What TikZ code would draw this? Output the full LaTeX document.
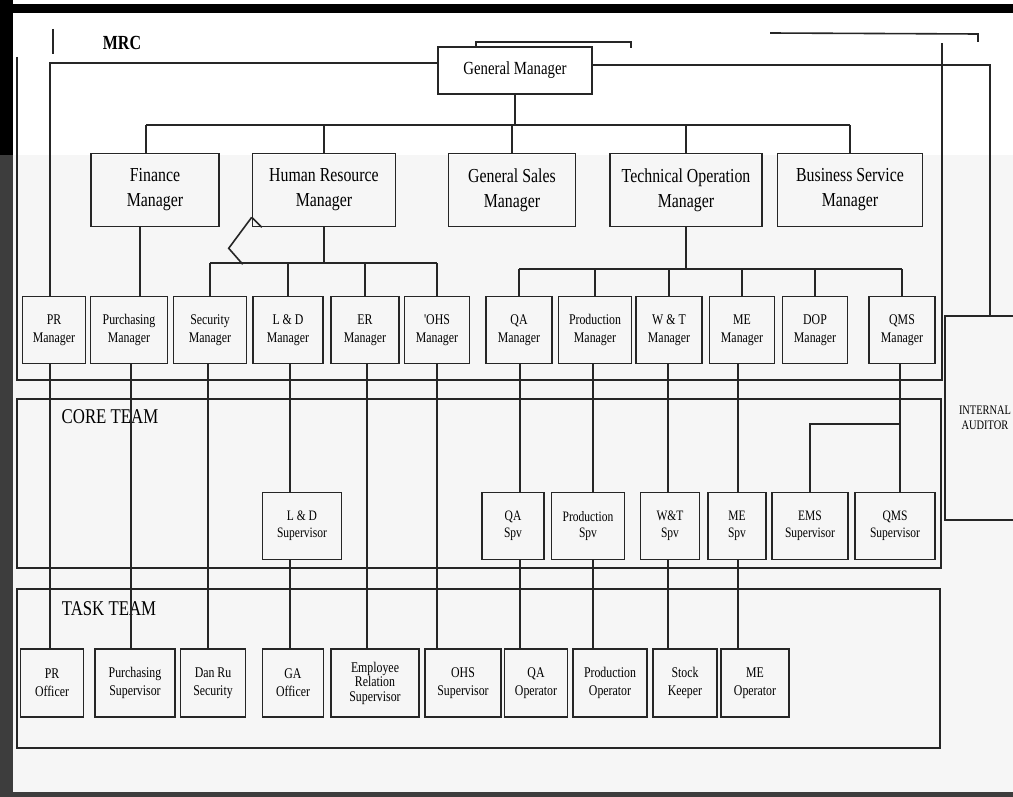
\documentclass[tikz,border=0pt]{standalone}
\usepackage{fontspec}
\newfontfamily\orgfont{Liberation Serif}[FakeStretch=0.8]

\begin{document}
\begin{tikzpicture}[
    x=1pt, y=1pt,
    post/.style={rectangle, draw=black!85, line width=1.6pt, align=center, inner sep=1pt},
    head/.style={post, minimum height=73pt, font=\orgfont\fontsize{19.8}{25}\selectfont},
    unit/.style={post, minimum height=67pt, font=\orgfont\fontsize{14.8}{17.6}\selectfont},
    core/.style={post, minimum height=67pt, font=\orgfont\fontsize{14.4}{16.8}\selectfont},
    task/.style={post, minimum height=68pt, font=\orgfont\fontsize{14.8}{18}\selectfont},
    link/.style={draw=black!85, line width=1.6pt},
    team/.style={font=\orgfont\fontsize{21}{24}\selectfont, inner sep=0pt}
]
    \useasboundingbox (0,0) rectangle (1013,-797);
    % paper
    \fill[white] (0,0) rectangle (1013,-797);
    \fill[gray!7] (0,-155) rectangle (1013,-797);

    % MRC, core team and task team frames
    \draw[link] (17,-57) -- (17,-380) -- (942,-380) -- (942,-43);
    \draw[link] (17,-399) rectangle (941,-568);
    \draw[link] (17,-589) rectangle (940,-748);
    \draw[link] (53,-29) -- (53,-54);
    \draw[link] (476,-48) -- (476,-42) -- (631,-42) -- (631,-48);
    \draw[link] (770,-33) -- (978,-34) -- (978,-42);

    \node[font=\orgfont\bfseries\fontsize{20}{24}\selectfont] (mrc) at (122,-43) {MRC};
    \node[team] (coreteam) at (110,-416.5) {CORE TEAM};
    \node[team] (taskteam) at (109,-608.5) {TASK TEAM};

    % columns of the vertical lines
    \coordinate (cfinup) at (146,0);
    \coordinate (cfin) at (140,0);
    \coordinate (cpr) at (50,0);
    \coordinate (cpu) at (131,0);
    \coordinate (csec) at (208,0);
    \coordinate (cld) at (290,0);
    \coordinate (cer) at (367,0);
    \coordinate (cohs) at (437,0);
    \coordinate (cqa) at (520,0);
    \coordinate (cprd) at (593,0);
    \coordinate (cwt) at (668,0);
    \coordinate (cme) at (738,0);
    \coordinate (cqms) at (900,0);
    \coordinate (cia) at (990,0);
    \coordinate (topbus) at (0,-125);
    \coordinate (hrbus) at (0,-263);
    \coordinate (tobus) at (0,-269);
    \coordinate (emsbr) at (0,-424);

    % top
    \node[post, minimum width=154pt, minimum height=47pt, font=\orgfont\fontsize{18.5}{22}\selectfont] (gm) at (515,-70.5) {General Manager};
    \node[post, minimum width=80pt, minimum height=204pt, font=\orgfont\fontsize{13}{15}\selectfont] (ia) at (985,-418) {INTERNAL\\AUDITOR};

    \node[head, minimum width=128pt] (fin) at (155,-190) {Finance\\Manager};
    \node[head, minimum width=143pt] (hrm) at (324,-190) {Human Resource\\Manager};
    \node[head, minimum width=127pt] (gsm) at (512,-190) {General Sales\\Manager};
    \node[head, minimum width=152pt] (tom) at (686,-190) {Technical Operation\\Manager};
    \node[head, minimum width=145pt] (bsm) at (850,-190) {Business Service\\Manager};

    % managers
    \node[unit, minimum width=63pt] (prm) at (54,-330) {PR\\Manager};
    \node[unit, minimum width=77pt] (pum) at (129,-330) {Purchasing\\Manager};
    \node[unit, minimum width=73pt] (sem) at (210,-330) {Security\\Manager};
    \node[unit, minimum width=70pt] (ldm) at (288,-330) {L \& D\\Manager};
    \node[unit, minimum width=68pt] (erm) at (365,-330) {ER\\Manager};
    \node[unit, minimum width=65pt] (ohm) at (437,-330) {'OHS\\Manager};
    \node[unit, minimum width=66pt] (qam) at (519,-330) {QA\\Manager};
    \node[unit, minimum width=73pt] (prdm) at (595,-330) {Production\\Manager};
    \node[unit, minimum width=66pt] (wtm) at (669,-330) {W \& T\\Manager};
    \node[unit, minimum width=65pt] (mem) at (742,-330) {ME\\Manager};
    \node[unit, minimum width=65pt] (dopm) at (815,-330) {DOP\\Manager};
    \node[unit, minimum width=66pt] (qmsm) at (902,-330) {QMS\\Manager};

    % core team
    \node[core, minimum width=79pt] (lds) at (302,-526) {L \& D\\Supervisor};
    \node[core, minimum width=62pt] (qas) at (513,-526) {QA\\Spv};
    \node[core, minimum width=73pt] (prs) at (588,-526) {Production\\Spv};
    \node[core, minimum width=59pt] (wts) at (670,-526) {W\&T\\Spv};
    \node[core, minimum width=58pt] (mes) at (737,-526) {ME\\Spv};
    \node[core, minimum width=76pt] (ems) at (810,-526) {EMS\\Supervisor};
    \node[core, minimum width=80pt] (qmss) at (895,-526) {QMS\\Supervisor};

    % task team
    \node[task, minimum width=63pt] (pro) at (52,-683) {PR\\Officer};
    \node[task, minimum width=80pt] (pus) at (135,-683) {Purchasing\\Supervisor};
    \node[task, minimum width=65pt] (drs) at (213,-683) {Dan Ru\\Security};
    \node[task, minimum width=61pt] (gao) at (293,-683) {GA\\Officer};
    \node[task, minimum width=88pt, font=\orgfont\fontsize{14.8}{14.5}\selectfont] (ers) at (375,-683) {Employee\\Relation\\Supervisor};
    \node[task, minimum width=76pt] (ohs) at (463,-683) {OHS\\Supervisor};
    \node[task, minimum width=63pt] (qao) at (536,-683) {QA\\Operator};
    \node[task, minimum width=74pt] (prodo) at (610,-683) {Production\\Operator};
    \node[task, minimum width=64pt] (skp) at (685,-683) {Stock\\Keeper};
    \node[task, minimum width=68pt] (meo) at (755,-683) {ME\\Operator};

    % general manager links
    \draw[link] (gm.south) -- (gm.south |- topbus);
    \draw[link] (cfinup |- topbus) -- (bsm.north |- topbus);
    \draw[link] (cfinup |- topbus) -- (cfinup |- fin.north);
    \foreach \n in {hrm,gsm,tom,bsm}
        \draw[link] (\n.north) -- (\n.north |- topbus);
    \draw[link] ([yshift=7.5pt]gm.west) -| (cpr |- prm.north);
    \draw[link] ([yshift=5.5pt]gm.east) -| (cia |- ia.north);

    % finance
    \draw[link] (cfin |- fin.south) -- (cfin |- pum.north);

    % human resource
    \draw[link] (hrm.south) -- (hrm.south |- hrbus);
    \draw[link] (sem.north |- hrbus) -- (ohm.north |- hrbus);
    \foreach \n in {sem,ldm,erm,ohm}
        \draw[link] (\n.north) -- (\n.north |- hrbus);
    \draw[link] ([yshift=10pt]hrm.south west) -- ([xshift=10pt]hrm.south west);
    \draw[link] ([yshift=10pt]hrm.south west) -- ++(-23,-31) -- ++(14,-16);

    % technical operation
    \draw[link] (tom.south) -- (tom.south |- tobus);
    \draw[link] (qam.north |- tobus) -- (qmsm.north |- tobus);
    \foreach \n in {qam,prdm,wtm,mem,dopm,qmsm}
        \draw[link] (\n.north) -- (\n.north |- tobus);

    % down to core team and task team
    \draw[link] (cpr |- prm.south) -- (cpr |- pro.north);
    \draw[link] (cpu |- pum.south) -- (cpu |- pus.north);
    \draw[link] (csec |- sem.south) -- (csec |- drs.north);
    \draw[link] (cld |- ldm.south) -- (cld |- lds.north);
    \draw[link] (cld |- lds.south) -- (cld |- gao.north);
    \draw[link] (cer |- erm.south) -- (cer |- ers.north);
    \draw[link] (cohs |- ohm.south) -- (cohs |- ohs.north);
    \foreach \c/\m/\s/\o in {cqa/qam/qas/qao, cprd/prdm/prs/prodo, cwt/wtm/wts/skp, cme/mem/mes/meo} {
        \draw[link] (\c |- \m.south) -- (\c |- \s.north);
        \draw[link] (\c |- \s.south) -- (\c |- \o.north);
    }
    \draw[link] (cqms |- qmsm.south) -- (cqms |- qmss.north);
    \draw[link] (cqms |- emsbr) -| (ems.north);

    % dark edges of the scan
    \fill[black] (0,-4) rectangle (1013,-13);
    \fill[black] (0,0) rectangle (13,-155);
    \fill[black!76] (0,-155) rectangle (13,-797);
    \fill[black!76] (0,-792) rectangle (1013,-797);
\end{tikzpicture}
\end{document}
